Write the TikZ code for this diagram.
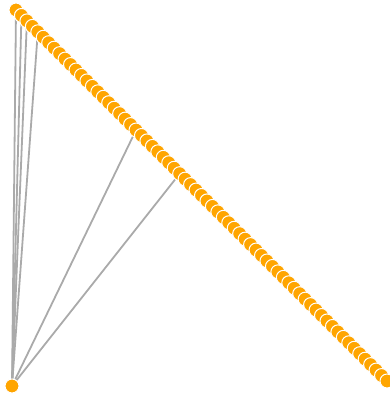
\documentclass[tikz,border=0pt]{standalone}
\usetikzlibrary{backgrounds}
\definecolor{dotorange}{RGB}{255,165,0}
\definecolor{linkgray}{RGB}{170,170,170}
\begin{document}
\begin{tikzpicture}[x=1pt, y=-1pt,
  dot/.style={circle, fill=dotorange, draw=white, line width=1pt, inner sep=0pt, minimum size=14pt},
  link/.style={linkgray, line width=1.8pt}]
  % picture frame
  \useasboundingbox (0,0) rectangle (390,396);

  % chain of dots along the diagonal
  \foreach \i in {0,...,68}
    \node[dot] (n\i) at ({16+\i*5.456},{10+\i*5.456}) {};

  % the lone dot at the bottom
  \node[dot] (hub) at (12,386) {};

  % links from the lone dot
  \begin{pgfonlayer}{background}
    \foreach \j in {0,1,2,4,22,30}
      \draw[link] (hub.center) -- (n\j.center);
  \end{pgfonlayer}
\end{tikzpicture}
\end{document}
